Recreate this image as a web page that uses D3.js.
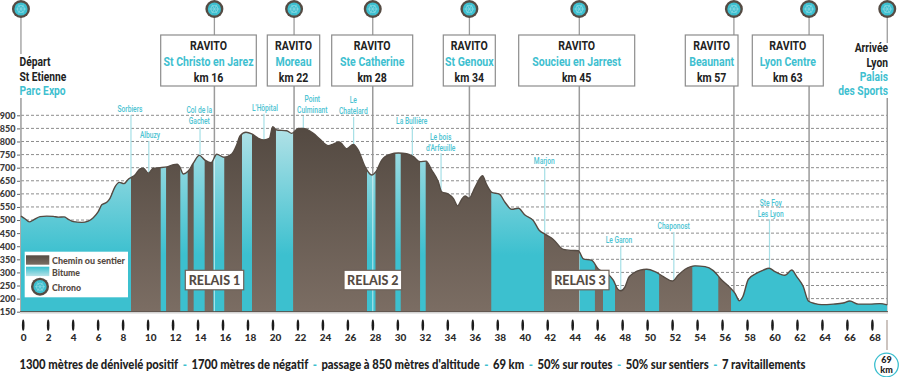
<!DOCTYPE html>
<html>
<head>
<meta charset="utf-8">
<script src="https://cdn.jsdelivr.net/npm/d3@7"></script>
<style>
  html, body { margin: 0; padding: 0; background: #fff; }
  svg { display: block; }
  .narrow { font-family: "Roboto", sans-serif; font-weight: 700; }
  .round { font-family: "Lato", "Open Sans", sans-serif; font-weight: 900; }
</style>
</head>
<body>
<svg id="fig" width="900" height="377"></svg>
<script>
// profile: km along the course, altitude in metres
const profileKm = [-0.14,0.18,0.53,0.85,1.39,1.92,2.45,2.85,3.31,3.65,4.05,4.72,5.25,5.65,6.05,6.33,6.73,6.99,7.39,7.74,8.11,8.46,8.67,
  8.99,9.39,9.66,10.06,10.46,11.0,11.53,12.06,12.38,12.6,12.86,13.26,13.66,14.14,14.6,15.08,15.54,16.12,16.74,17.14,17.4,17.88,18.34,18.87,19.32,19.75,20.02,20.34,21.14,21.54,
  22.07,22.47,23.27,23.81,24.47,24.87,25.35,25.95,26.47,26.87,27.41,27.95,28.29,28.75,29.41,30.08,30.75,31.28,31.82,32.3,32.75,33.28,33.55,34.08,34.48,34.83,35.15,35.42,35.74,36.22,36.82,37.16,37.56,
  38.17,38.62,39.16,39.69,40.22,40.89,41.34,41.82,42.49,43.29,43.96,44.49,44.89,45.57,46.09,46.77,47.29,47.65,47.89,48.23,48.5,48.9,49.43,49.97,50.63,51.3,52.02,52.5,53.04,53.84,54.64,55.3,55.97,56.64,57.04,57.39,57.66,58.11,58.78,59.31,59.77,60.24,61.04,61.58,61.98,62.51,62.91,63.44,63.97,64.9,65.7,66.24,66.9,67.84,68.64,69.23];
const profileAlt = [515,505,493,500,513,515,514,511,512,503,494,491,496,509,532,558,568,583,627,644,639,656,662,
  672,695,698,679,698,700,703,711,713,701,676,687,717,747,729,719,751,740,752,787,821,835,829,812,806,812,856,844,841,831,
  850,850,831,808,784,790,798,772,789,767,704,672,685,729,751,756,753,742,723,725,691,646,608,599,583,554,579,592,583,625,669,634,606,
  599,568,541,545,519,498,462,446,426,388,384,383,352,346,313,297,271,236,230,245,278,297,309,312,303,284,267,290,312,325,322,307,271,242,220,192,207,274,297,309,316,303,289,309,284,245,191,181,177,179,183,191,179,179,181,176];

// km ranges of the course on tarmac, the rest is track
const bitumeStart = [-0.14,11.05,12.62,13.69,15.26,17.56,20.28,27.57,29.84,31.82,37.52,44.57,46.47,49.83,53.62,56.72];
const bitumeEnd = [8.67,11.48,13.21,14.57,16.14,18.36,21.65,28.25,30.27,32.27,41.74,45.82,47.43,50.96,55.7,69.23];

const kmTicks = d3.range(0, 69, 2);
const altTicks = [150,200,250,300,350,400,450,500,550,600,650,700,750,800,850,900];

const ravitoNames = ["St Christo en Jarez","Moreau","Ste Catherine","St Genoux","Soucieu en Jarrest","Beaunant","Lyon Centre"];
const ravitoLabels = ["km 16","km 22","km 28","km 34","km 45","km 57","km 63"];
const ravitoKm = [15.35,21.73,28.03,35.77,44.57,56.95,62.97];
const ravitoAlt = [735,831,675,583,383,220,191];
const startKm = -0.14;
const finishKm = 69.23;

const placeNames = [["Sorbiers"],["Albuzy"],["Col de la","Gachet"],["L'Hôpital"],["Point","Culminant"],["Le","Chatelard"],["La Bullière"],["Le bois","d'Arfeuille"],["Marjon"],["Le Garon"],["Chaponost"],["Ste Foy","Les Lyon"]];
const placeKm = [8.67,10.1,14.2,19.32,22.47,26.5,31.2,33.5,41.8,47.89,52.14,59.8];
const placeAlt = [662,679,745,806,850,789,742,608,446,230,267,316];

const relaisNames = ["RELAIS 1","RELAIS 2","RELAIS 3"];

const summaryParts = ["1300 mètres de dénivelé positif","-","1700 mètres de négatif","-","passage à 850 mètres d'altitude","-","69 km","-","50% sur routes","-","50% sur sentiers","-","7 ravitaillements"];

// page furniture, these are not data
const brown = "#554b43";
const teal = "#3cbfcf";
const paleTeal = "#a5dfe6";
const lineGrey = "#9b9b9b";
const boxEdges = [[160.7,256.3],[267.3,319.7],[331.7,412.7],[443.3,495.3],[518.7,634.7],[685.3,738],[752.3,823.3]];
const relaisEdges = [[185.3,243.7],[344,401.7],[551,609]];
const placeLabelMid = [109,135,110,107.7,99,100,120.3,136.3,161,239.7,226,202.3];
const placeLabelX = [130,150,199.3,265,312.3,353.3,411.7,440.7,544.3,619,673.7,770.7];

const x = d3.scaleLinear().domain([0, 68]).range([22.7, 871.9]);
const y = d3.scaleLinear().domain([150, 900]).range([311.7, 115.3]);

const fig = d3.select("#fig");
const defs = fig.append("defs");

// No condensed face is installed, so we squeeze the glyphs of the normal one.
function squeeze(sel, factor) {
    sel.each(function() {
        const w = this.getComputedTextLength();
        d3.select(this)
            .attr("textLength", w * factor)
            .attr("lengthAdjust", "spacingAndGlyphs");
    });
}

function addGradient(id, top, bottom, y1, y2) {
    const g = defs.append("linearGradient")
        .attr("id", id)
        .attr("gradientUnits", "userSpaceOnUse")
        .attr("x1", 0).attr("x2", 0)
        .attr("y1", y1).attr("y2", y2);
    g.append("stop").attr("offset", 0).attr("stop-color", top);
    g.append("stop").attr("offset", 1).attr("stop-color", bottom);
}
addGradient("cheminFill", "#544a42", "#7b6d63", 130, 311);
addGradient("bitumeFill", "#b4e2e7", "#3cc0cf", 125, 255);
addGradient("cheminKey", "#544a42", "#7b6d63", 255, 265);
addGradient("bitumeKey", "#3cc0cf", "#b4e2e7", 267, 276);

defs.append("clipPath")
    .attr("id", "bitumeClip")
    .selectAll("rect")
    .data(bitumeStart)
    .enter()
    .append("rect")
    .attr("x", d => x(d))
    .attr("y", 0)
    .attr("width", (d, i) => x(bitumeEnd[i]) - x(d))
    .attr("height", 377);

// grid
fig.append("g")
    .selectAll("line")
    .data(altTicks.slice(1))
    .enter()
    .append("line")
    .attr("x1", 21)
    .attr("x2", x(finishKm))
    .attr("y1", d => y(d))
    .attr("y2", d => y(d))
    .attr("stroke", "#808080")
    .attr("stroke-width", 0.9)
    .attr("stroke-dasharray", "3,2");

// altitude axis
const yAxis = d3.axisLeft(y).tickValues(altTicks).tickSize(3).tickPadding(1.5);
const yGroup = fig.append("g")
    .attr("transform", "translate(20,0)")
    .call(yAxis);
yGroup.select(".domain").remove();
yGroup.selectAll("line").attr("stroke", "#666");
yGroup.selectAll("text")
    .attr("class", "round")
    .attr("fill", "#3a3a3a")
    .style("font-size", "9px");

// lines from the chrono icons down to the course
function iconLines(km, alt, gapTop, gapBottom) {
    fig.append("line")
        .attr("x1", x(km)).attr("x2", x(km))
        .attr("y1", 12).attr("y2", gapTop)
        .attr("stroke", lineGrey).attr("stroke-width", 1.3);
    fig.append("line")
        .attr("x1", x(km)).attr("x2", x(km))
        .attr("y1", gapBottom).attr("y2", y(alt))
        .attr("stroke", lineGrey).attr("stroke-width", 1.5);
}
ravitoKm.forEach((km, i) => iconLines(km, ravitoAlt[i], 35, 86));
iconLines(startKm, 150, 54, 98);
iconLines(finishKm, 176, 43, 98);

// pale lines from the place names
fig.append("g")
    .selectAll("line")
    .data(placeKm)
    .enter()
    .append("line")
    .attr("x1", d => x(d))
    .attr("x2", d => x(d))
    .attr("y1", (d, i) => placeLabelMid[i] + (placeNames[i].length - 1) * 11 + 6)
    .attr("y2", (d, i) => y(placeAlt[i]))
    .attr("stroke", paleTeal)
    .attr("stroke-width", 1.2);

// the profile itself
const profile = profileKm.map((d, i) => [d, profileAlt[i]]);
const areaMaker = d3.area()
    .x(d => x(d[0]))
    .y0(y(150))
    .y1(d => y(d[1]))
    .curve(d3.curveMonotoneX);
const lineMaker = d3.line()
    .x(d => x(d[0]))
    .y(d => y(d[1]))
    .curve(d3.curveMonotoneX);

fig.append("path")
    .attr("fill", "url(#cheminFill)")
    .attr("d", areaMaker(profile));
fig.append("path")
    .attr("fill", "url(#bitumeFill)")
    .attr("clip-path", "url(#bitumeClip)")
    .attr("d", areaMaker(profile));

// thin pale trace of the ravito lines where they cross tarmac
fig.append("g")
    .attr("clip-path", "url(#bitumeClip)")
    .selectAll("line")
    .data(ravitoKm.slice(0, 5))
    .enter()
    .append("line")
    .attr("x1", d => x(d))
    .attr("x2", d => x(d))
    .attr("y1", (d, i) => y(ravitoAlt[i]))
    .attr("y2", y(150))
    .attr("stroke", "#fff")
    .attr("stroke-opacity", 0.55)
    .attr("stroke-width", 1.2);

fig.append("path")
    .attr("fill", "none")
    .attr("stroke", brown)
    .attr("stroke-width", 1.4)
    .attr("d", lineMaker(profile));

// base line
fig.append("line")
    .attr("x1", 20).attr("x2", 888)
    .attr("y1", y(150)).attr("y2", y(150))
    .attr("stroke", brown).attr("stroke-width", 1);
fig.append("line")
    .attr("x1", 20).attr("x2", 888)
    .attr("y1", y(150) + 1.2).attr("y2", y(150) + 1.2)
    .attr("stroke", "#cfcfcf").attr("stroke-width", 1.4);

// place names
placeNames.forEach((lines, i) => {
    lines.forEach((t, j) => {
        fig.append("text")
            .attr("class", "narrow")
            .attr("x", placeLabelX[i])
            .attr("y", placeLabelMid[i] + j * 11)
            .attr("dy", "0.35em")
            .attr("text-anchor", "middle")
            .attr("fill", "#4cc3d2")
            .style("font-size", "9.5px")
            .style("font-weight", 500)
            .text(t)
            .call(squeeze, 0.7);
    });
});

// ravito boxes
const boxes = fig.append("g")
    .selectAll("g")
    .data(ravitoNames)
    .enter()
    .append("g");
boxes.append("rect")
    .attr("x", (d, i) => boxEdges[i][0])
    .attr("y", 35)
    .attr("width", (d, i) => boxEdges[i][1] - boxEdges[i][0])
    .attr("height", 51)
    .attr("fill", "#fff")
    .attr("stroke", "#8c8c8c")
    .attr("stroke-width", 1.2);
function boxText(sel, dyPos, colour, textFn) {
    sel.append("text")
        .attr("class", "narrow")
        .attr("x", (d, i) => (boxEdges[i][0] + boxEdges[i][1]) / 2)
        .attr("y", dyPos)
        .attr("dy", "0.35em")
        .attr("text-anchor", "middle")
        .attr("fill", colour)
        .style("font-size", "13.5px")
        .text(textFn)
        .call(squeeze, 0.78);
}
boxText(boxes, 45.5, "#222", () => "RAVITO");
boxText(boxes, 61.5, "#3fbfd0", d => d);
boxText(boxes, 77, "#222", (d, i) => ravitoLabels[i]);

// start and finish
const startLines = [["Départ", "#222"], ["St Etienne", "#222"], ["Parc Expo", "#3fbfd0"]];
startLines.forEach((d, i) => {
    fig.append("text")
        .attr("class", "narrow")
        .attr("x", 19.5)
        .attr("y", 61.7 + i * 14.3)
        .attr("dy", "0.35em")
        .attr("fill", d[1])
        .style("font-size", "13.5px")
        .text(d[0])
        .call(squeeze, 0.76);
});
const finishLines = [["Arrivée", "#222"], ["Lyon", "#222"], ["Palais", "#3fbfd0"], ["des Sports", "#3fbfd0"]];
finishLines.forEach((d, i) => {
    fig.append("text")
        .attr("class", "narrow")
        .attr("x", 888)
        .attr("y", 47.7 + i * 14.3)
        .attr("dy", "0.35em")
        .attr("text-anchor", "end")
        .attr("fill", d[1])
        .style("font-size", "13.5px")
        .text(d[0])
        .call(squeeze, 0.76);
});

// km axis, the ticks are small spindles
const xAxis = d3.axisBottom(x).tickValues(kmTicks).tickSize(0).tickPadding(0);
const xGroup = fig.append("g")
    .attr("transform", "translate(0,319)")
    .call(xAxis);
xGroup.select(".domain").remove();
xGroup.selectAll(".tick")
    .append("ellipse")
    .attr("cx", 0)
    .attr("cy", 6.2)
    .attr("rx", 1.3)
    .attr("ry", 5.6)
    .attr("fill", "#1c1c1c");
xGroup.selectAll("text")
    .attr("class", "round")
    .attr("y", 19)
    .attr("dy", "0.32em")
    .attr("dx", d => d < 10 ? 0.4 : 2.6)
    .attr("fill", "#2b2b2b")
    .style("font-size", "10px");

// relais labels
relaisNames.forEach((d, i) => {
    fig.append("rect")
        .attr("x", relaisEdges[i][0])
        .attr("y", 270.3)
        .attr("width", relaisEdges[i][1] - relaisEdges[i][0])
        .attr("height", 19.5)
        .attr("fill", "#fff")
        .attr("stroke", "#6f6259")
        .attr("stroke-width", 1.2);
    fig.append("text")
        .attr("class", "round")
        .attr("x", (relaisEdges[i][0] + relaisEdges[i][1]) / 2)
        .attr("y", 280.3)
        .attr("dy", "0.36em")
        .attr("text-anchor", "middle")
        .attr("fill", brown)
        .style("font-size", "12.5px")
        .text(d);
});

// chrono icon
function chrono(cx, cy) {
    const g = fig.append("g").attr("transform", "translate(" + cx + "," + cy + ")");
    g.append("circle").attr("r", 9).attr("fill", brown);
    g.append("circle").attr("r", 6.6).attr("fill", "#3cbfcf");
    g.append("circle").attr("r", 3.6).attr("fill", "none").attr("stroke", "#8fd9e2").attr("stroke-width", 0.8);
    d3.range(0, 6).forEach(k => {
        const a = k * Math.PI / 3;
        g.append("line")
            .attr("x2", 5 * Math.cos(a))
            .attr("y2", 5 * Math.sin(a))
            .attr("stroke", "#8fd9e2")
            .attr("stroke-width", 0.7);
    });
}
ravitoKm.forEach(km => chrono(x(km), 9));
chrono(x(startKm), 9);
chrono(x(finishKm), 9);

// legend
fig.append("rect")
    .attr("x", 24.7).attr("y", 251.7)
    .attr("width", 103.3).attr("height", 45.6)
    .attr("fill", "#fff");
fig.append("rect")
    .attr("x", 26).attr("y", 255.3)
    .attr("width", 23.3).attr("height", 9.4)
    .attr("fill", "url(#cheminKey)");
fig.append("rect")
    .attr("x", 26).attr("y", 266.7)
    .attr("width", 23.3).attr("height", 9.4)
    .attr("fill", "url(#bitumeKey)");
chrono(40, 286.7);
const legendNames = ["Chemin ou sentier", "Bitume", "Chrono"];
const legendMid = [260.5, 272.5, 288];
legendNames.forEach((d, i) => {
    fig.append("text")
        .attr("class", "round")
        .attr("x", 52)
        .attr("y", legendMid[i])
        .attr("dy", "0.35em")
        .attr("fill", brown)
        .style("font-size", "8.6px")
        .attr("textLength", [73, 28, 29][i])
        .attr("lengthAdjust", "spacingAndGlyphs")
        .text(d);
});

// summary line, each part is its own text so the teal dashes keep their colour
const summaryGap = 4.5;
const summaryTexts = summaryParts.map(d => fig.append("text")
    .attr("class", "round")
    .attr("y", 365)
    .attr("dy", "0.35em")
    .attr("fill", d === "-" ? teal : "#222")
    .style("font-size", "12.5px")
    .text(d));
const summaryWidths = summaryTexts.map(t => t.node().getComputedTextLength());
const summaryStretch = (786 - summaryGap * (summaryParts.length - 1)) / d3.sum(summaryWidths);
let summaryX = 19.5;
summaryTexts.forEach((t, i) => {
    t.attr("x", summaryX)
        .attr("textLength", summaryWidths[i] * summaryStretch)
        .attr("lengthAdjust", "spacingAndGlyphs");
    summaryX += summaryWidths[i] * summaryStretch + summaryGap;
});

// 69 km badge
fig.append("line")
    .attr("x1", 887).attr("x2", 887)
    .attr("y1", 320).attr("y2", 350)
    .attr("stroke", "#a3948b").attr("stroke-width", 1.1);
fig.append("circle")
    .attr("cx", 886.5).attr("cy", 365).attr("r", 11.8)
    .attr("fill", "#fff").attr("stroke", teal).attr("stroke-width", 1.3);
["69", "km"].forEach((d, i) => {
    fig.append("text")
        .attr("class", "round")
        .attr("x", 886.5)
        .attr("y", 360 + i * 10)
        .attr("dy", "0.35em")
        .attr("text-anchor", "middle")
        .attr("fill", "#222")
        .style("font-size", "9px")
        .text(d);
});
</script>
</body>
</html>
